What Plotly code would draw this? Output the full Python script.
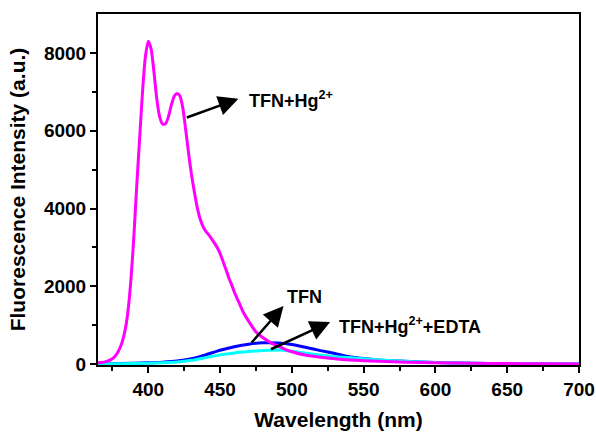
import plotly.graph_objects as go

# Wavelength (nm) and fluorescence intensity (a.u.)
wl_hg = [365, 370, 375, 378, 381, 384, 386, 388, 390, 392, 394, 396, 398, 400, 402, 404, 406, 408,
         410, 412, 414, 416, 418, 420, 422, 424, 426, 428, 430, 432, 434, 436, 438, 440, 442, 444,
         446, 448, 450, 452, 454, 456, 458, 460, 463, 466, 470, 475, 480, 485, 490, 495, 500, 510,
         520, 530, 540, 550, 560, 580, 600, 625, 650, 675, 700]
int_hg = [40, 60, 140, 260, 480, 900, 1400, 2200, 3300, 4600, 5800, 7000, 7900, 8300, 8100, 7500,
          6800, 6350, 6170, 6180, 6350, 6650, 6880, 6960, 6900, 6600, 6050, 5450, 4900, 4450, 4050,
          3750, 3550, 3420, 3330, 3230, 3120, 3000, 2850, 2650, 2450, 2230, 2050, 1850, 1600, 1350,
          1100, 830, 680, 560, 470, 390, 320, 230, 180, 140, 110, 90, 75, 50, 35, 25, 18, 12, 8]

wl_tfn = [365, 380, 400, 410, 420, 430, 440, 450, 460, 470, 480, 490, 500, 510, 520, 530, 540, 550,
          560, 575, 590, 600, 625, 650, 675, 700]
int_tfn = [15, 20, 35, 50, 80, 140, 240, 360, 450, 515, 550, 545, 505, 430, 350, 275, 190, 145,
           110, 80, 55, 45, 25, 15, 8, 5]

wl_edta = [365, 380, 400, 410, 420, 430, 440, 450, 460, 470, 480, 490, 500, 510, 520, 530, 540, 550,
           560, 575, 590, 600, 625, 650, 675, 700]
int_edta = [10, 15, 25, 35, 55, 100, 170, 240, 290, 325, 355, 365, 335, 285, 235, 190, 170, 140,
            112, 80, 55, 45, 25, 15, 8, 5]

x_ticks = [400, 450, 500, 550, 600, 650, 700]
x_minor = [375, 425, 475, 525, 575, 625, 675]
y_ticks = [0, 2000, 4000, 6000, 8000]
y_minor = [1000, 3000, 5000, 7000]

FONT = "Liberation Sans, Arial, sans-serif"

fig = go.Figure()
fig.add_trace(go.Scatter(x=wl_tfn, y=int_tfn, mode="lines", line=dict(color="#0000FF", width=3, shape="spline", smoothing=0.6), name="TFN"))
fig.add_trace(go.Scatter(x=wl_edta, y=int_edta, mode="lines", line=dict(color="#00FFFF", width=3, shape="spline", smoothing=0.6), name="TFN+Hg2++EDTA"))
fig.add_trace(go.Scatter(x=wl_hg, y=int_hg, mode="lines", line=dict(color="#FF00FF", width=3, shape="spline", smoothing=0.6), name="TFN+Hg2+"))

arrows = [((462.8, 6820), (425.8, 6325)),
          ((494.2, 1495), (471.0, 513)),
          ((526.7, 1085), (484.4, 367))]
anns = []
for (hx, hy), (tx, ty) in arrows:
    anns.append(dict(x=hx, y=hy, ax=tx, ay=ty, xref="x", yref="y", axref="x", ayref="y",
                     text="", showarrow=True, arrowhead=2, arrowsize=1.6, arrowwidth=2.5,
                     arrowcolor="black", standoff=0, startstandoff=0))
labels = [(468.5, 6800, "TFN+Hg<sup>2+</sup>"),
          (495.3, 1726, "TFN"),
          (531.3, 987, "TFN+Hg<sup>2+</sup>+EDTA")]
for lx, ly, txt in labels:
    anns.append(dict(x=lx, y=ly, xref="x", yref="y", text=txt, showarrow=False,
                     xanchor="left", yanchor="middle",
                     font=dict(family=FONT, size=18, color="black", weight="bold")))

fig.update_layout(
    width=596, height=434,
    margin=dict(l=98, r=17, t=14, b=69),
    plot_bgcolor="white", paper_bgcolor="white",
    showlegend=False,
    annotations=anns,
    font=dict(family=FONT, color="black"),
)
fig.update_xaxes(
    range=[365, 700], tickvals=x_ticks, ticktext=[str(v) for v in x_ticks],
    ticks="outside", ticklen=6, tickwidth=2, tickcolor="black",
    minor=dict(tickvals=x_minor, ticks="outside", ticklen=4, tickwidth=2, tickcolor="black"),
    showline=True, linewidth=2, linecolor="black", mirror=True,
    showgrid=False, zeroline=False, automargin=False,
    tickfont=dict(family=FONT, size=19, color="black", weight="bold"),
    title=dict(text="Wavelength (nm)", font=dict(family=FONT, size=21, color="black", weight="bold"), standoff=14),
)
fig.update_yaxes(
    range=[-20, 9000], tickvals=y_ticks, ticktext=[str(v) for v in y_ticks],
    ticks="outside", ticklen=6, tickwidth=2, tickcolor="black",
    minor=dict(tickvals=y_minor, ticks="outside", ticklen=4, tickwidth=2, tickcolor="black"),
    showline=True, linewidth=2, linecolor="black", mirror=True,
    showgrid=False, zeroline=False, automargin=False,
    tickfont=dict(family=FONT, size=19, color="black", weight="bold"),
    title=dict(text="Fluorescence Intensity (a.u.)", font=dict(family=FONT, size=21, color="black", weight="bold"), standoff=13),
)

fig.write_html("out.html", config={"displayModeBar": False},
               post_script="document.body.style.margin='0px';")
